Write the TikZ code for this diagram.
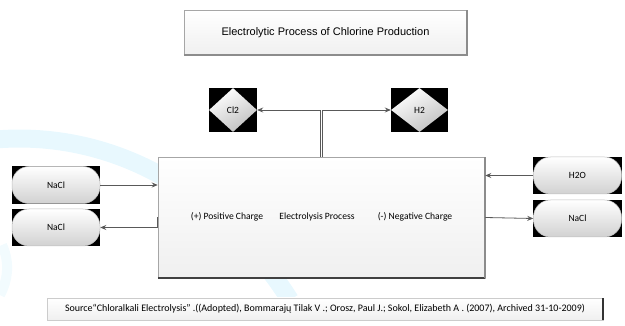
\documentclass[tikz,border=0pt]{standalone}
\usepackage{fontspec}
\setmainfont{Carlito}
\newfontfamily\titlefont{Liberation Sans}
\usetikzlibrary{shapes.geometric,arrows.meta,backgrounds}

\begin{document}
\begin{tikzpicture}[x=1pt,y=-1pt,
    box/.style={draw=black!35, line width=0.5pt, top color=white, bottom color=black!6, inner sep=0pt},
    pill/.style={draw=black!25, line width=0.5pt, rounded corners=17pt, top color=white, bottom color=black!18,
        minimum width=88pt, minimum height=37pt, inner sep=0pt, font=\fontsize{9.5}{11}\selectfont},
    gem/.style={diamond, draw=none, top color=white, bottom color=black!25, shading angle=30,
        minimum width=48pt, minimum height=44pt, inner sep=0pt, font=\fontsize{9.5}{11}\selectfont},
    conn/.style={draw=black!65, line width=0.8pt, -{Stealth[length=6pt,width=5pt]}},
    lbl/.style={font=\fontsize{9.6}{11}\selectfont, inner sep=0pt}]
\useasboundingbox (0,0) rectangle (625,326);

% boxes
\node[box, minimum width=283pt, minimum height=45pt, font=\titlefont\fontsize{11}{13}\selectfont] (title) at (325.5,32.5) {Electrolytic Process of Chlorine Production};
\node[box, minimum width=327pt, minimum height=121pt] (main) at (321.5,217.5) {};
\node[lbl] (pos) at (227,217) {(+) Positive Charge};
\node[lbl] (proc) at (317,217) {Electrolysis Process};
\node[lbl] (neg) at (415,217) {(-) Negative Charge};

\node[gem] (cl2) at (233,110) {Cl2};
\node[gem, minimum width=57pt] (h2) at (419.5,110) {H2};

\node[pill] (naclin) at (56,185) {NaCl};
\node[pill] (naclout) at (56,227.5) {NaCl};
\node[pill] (h2o) at (577.5,175.5) {H2O};
\node[pill] (naclr) at (577.5,218.5) {NaCl};

\node[box, draw=black!20, minimum width=556pt, minimum height=22pt, font=\fontsize{10}{12}\selectfont] (src) at (325,309)
    {Source``Chloralkali Electrolysis'' .((Adopted), Bommarajų Tilak V .; Orosz, Paul J.; Sokol, Elizabeth A . (2007), Archived 31-10-2009)};

% shadows
\draw[black!75, line width=1.6pt] (main.south west) -- (main.south east);
\draw[black!45, line width=2pt] (main.south east) -- (main.north east);
\draw[black!45, line width=1.6pt] (title.south west) -- (title.south east) -- (title.north east);
\draw[black!80, line width=2pt] (src.south east) -- (src.north east);

% black squares and swoosh behind
\begin{scope}[on background layer]
\draw[cyan!9, line width=18pt] (-10,140) .. controls (110,128) and (220,190) .. (290,300);
\draw[cyan!5, line width=10pt] (2,245) .. controls (10,262) and (8,280) .. (0,295);
\foreach \n in {cl2,h2,naclin,naclout,h2o,naclr} {
    \fill[black] (\n.west |- \n.north) rectangle (\n.east |- \n.south);
}
\end{scope}

% connectors
\draw[conn] ([xshift=-1pt]main.north) |- (cl2.east);
\draw[conn] ([xshift=1pt]main.north) |- (h2.west);
\draw[conn] (naclin.east) -- (naclin.east -| main.west);
\draw[conn] (main.west) |- (naclout.east);
\draw[conn] (h2o.west) -- (h2o.west -| main.east);
\draw[conn] (main.east) -- (naclr.west);

\end{tikzpicture}
\end{document}
